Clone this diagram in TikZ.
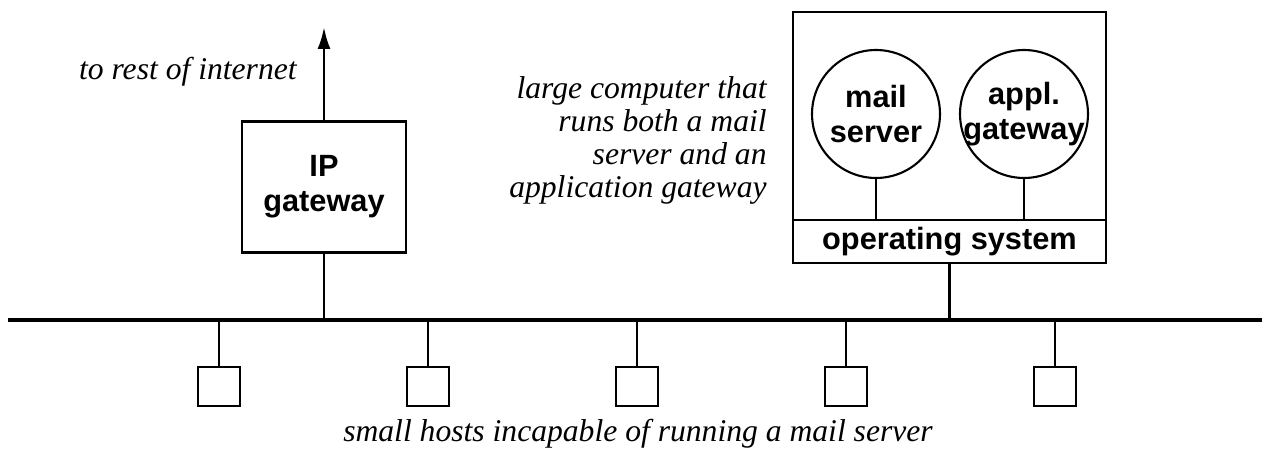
\documentclass[tikz,border=0pt]{standalone}
\usepackage{fontspec}
\setmainfont{Liberation Serif}
\setsansfont{Liberation Sans}
\usetikzlibrary{arrows.meta,positioning}
\tikzset{
    box/.style={
        draw, line width=1.6pt, inner sep=1pt,
        minimum width=3.28cm, minimum height=2.62cm,
        align=center, font=\sffamily\bfseries\fontsize{17.5}{20}\selectfont
    },
    proc/.style={
        draw, circle, line width=1.2pt,
        minimum size=2.56cm, inner sep=0pt
    },
    lbl/.style={
        align=center, inner sep=0pt,
        font=\sffamily\bfseries\fontsize{17.5}{20}\selectfont
    },
    host/.style={
        draw, line width=1.3pt, inner sep=0pt,
        minimum width=0.84cm, minimum height=0.78cm
    },
    note/.style={
        inner sep=0pt, font=\itshape\fontsize{18}{18.8}\selectfont
    }
}
\begin{document}
\begin{tikzpicture}[>=Stealth, x=0.02cm, y=-0.02cm]
\useasboundingbox (0,0) rectangle (1262,452);

% Network
\coordinate (busL) at (8,320);
\coordinate (busR) at (1262,320);
\draw[line width=2.2pt] (busL) -- (busR);

% IP gateway
\node[box] (ipgw) at (324,187) {IP\\gateway};
\coordinate (inet) at (324,27);
\draw[-{Latex[length=0.44cm,width=0.26cm]}, line width=1.6pt] (ipgw.north) -- (inet);
\draw[line width=1.6pt] (ipgw.south) -- (ipgw.south |- busL);
\node[note, anchor=base east] (inettxt) at (297,80) {to rest of internet};

% Large computer
\node[box, minimum width=6.26cm, minimum height=5.02cm] (big) at (949.5,137.5) {};
\node[box, minimum width=6.26cm, minimum height=0.86cm] (os) at (949.5,241.5) {operating system};
\node[proc] (mail) at (876,114) {};
\node[proc] (appl) at (1024,114) {};
\node[lbl] (mailtxt) at (mail) {mail\\server};
\node[lbl] (appltxt) at (appl) {appl.\\gateway};
\draw[line width=1.3pt] (mail.south) -- (mail.south |- os.north);
\draw[line width=1.3pt] (appl.south) -- (appl.south |- os.north);
\draw[line width=1.6pt] (big.south) -- (big.south |- busL);
\node[note, align=right, anchor=east] (bigtxt) at (767,140)
    {large computer that\\runs both a mail\\server and an\\application gateway};

% Small hosts
\foreach \i/\x in {1/219,2/428,3/637,4/846,5/1055} {
    \node[host] (h\i) at (\x,386.5) {};
    \draw[line width=1.1pt] (h\i.north) -- (h\i.north |- busL);
}
\node[note, anchor=base] (hosttxt) at (638,442) {small hosts incapable of running a mail server};

\end{tikzpicture}
\end{document}
